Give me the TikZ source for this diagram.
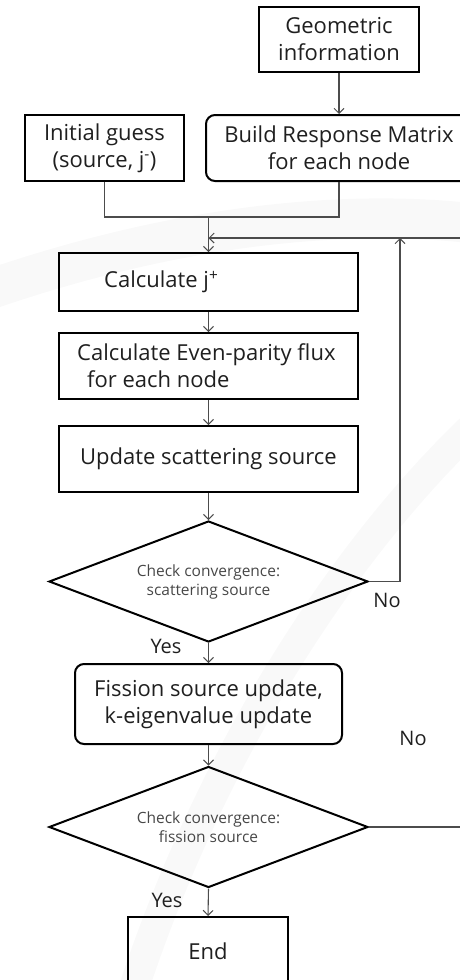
\documentclass[tikz,border=0pt]{standalone}
\usepackage{fontspec}
\setmainfont{Open Sans}
\usetikzlibrary{shapes.geometric,arrows.meta}

\begin{document}
\begin{tikzpicture}[x=1pt,y=-1pt,
  every node/.style={font=\fontsize{22}{27}\selectfont, text=black!88},
  box/.style={draw=black, line width=2pt, rectangle, inner sep=0pt, align=center},
  rbox/.style={box, rounded corners=9pt},
  dec/.style={draw=black, line width=2pt, diamond, inner sep=0pt, aspect=2.64,
    minimum width=319pt, minimum height=121pt, align=center,
    font=\fontsize{15.5}{19}\selectfont, text=black!72},
  txt/.style={inner sep=0pt, align=left},
  lab/.style={inner sep=0pt, font=\fontsize{20}{24}\selectfont},
  link/.style={draw=black!70, line width=1.1pt},
  arr/.style={link, -{Straight Barb[length=5pt,width=10pt,line width=1pt]}}]

% page frame
\useasboundingbox (0,0) rectangle (460,980);

% faint background swoosh
\begin{scope}
  \clip (0,0) rectangle (460,980);
  \draw[line width=40pt, black!2.5] (-40,300) .. controls (150,230) and (350,200) .. (520,230);
  \draw[line width=30pt, black!2.5] (130,1000) .. controls (200,780) and (330,560) .. (480,420);
\end{scope}

% process blocks
\node[box, minimum width=160pt, minimum height=65pt] (geo) at (339,39.5) {Geometric\\information};
\node[box, minimum width=159pt, minimum height=66pt] (init) at (104.5,148) {Initial guess\\(source, j\textsuperscript{-})};
\node[rbox, minimum width=266pt, minimum height=66pt] (build) at (339,148) {Build Response Matrix\\for each node};

\node[box, minimum width=299pt, minimum height=58pt] (calc) at (208.5,282) {};
\node[txt, anchor=west] (calctxt) at ([xshift=46pt]calc.west) {Calculate j\textsuperscript{+}};

\node[box, minimum width=299pt, minimum height=66pt] (even) at (208.5,366) {};
\node[txt, anchor=west] (eventxt) at ([xshift=19pt]even.west) {Calculate Even-parity flux\\\hspace*{10pt}for each node};

\node[box, minimum width=299pt, minimum height=66pt] (upd) at (208.5,459) {Update scattering source};

\node[dec] (d1) at (208.5,581.5) {Check convergence:\\scattering source};

\node[rbox, minimum width=267pt, minimum height=80pt] (fis) at (208.5,704) {Fission source update,\\k-eigenvalue update};

\node[dec] (d2) at (208.5,827) {Check convergence:\\fission source};

\node[box, minimum width=160pt, minimum height=68pt] (fin) at (208,951) {End};

% branch labels
\node[lab] (no1) at (387,600) {No};
\node[lab] (yes1) at (166,646) {Yes};
\node[lab] (no2) at (413,738) {No};
\node[lab] (yes2) at (167,900) {Yes};

% junction points
\coordinate (j1) at (208.5,217);
\coordinate (fb) at (208.5,238);
\coordinate (up1) at (400,238);
\coordinate (edgeA) at (461,238);
\coordinate (edgeB) at (461,827);

% connectors
\draw[arr] (geo.south) -- (build.north);
\draw[link] (init.south) |- (j1) -| (build.south);
\draw[arr] (j1) -- (calc.north);
\draw[arr] (edgeA) -- (fb);
\draw[arr] (d1.east) -| (up1);
\draw[arr] (calc.south) -- (even.north);
\draw[arr] (even.south) -- (upd.north);
\draw[arr] (upd.south) -- (d1.north);
\draw[arr] (d1.south) -- (fis.north);
\draw[arr] (fis.south) -- (d2.north);
\draw[link] (d2.east) -- (edgeB);
\draw[arr] (d2.south) -- (fin.north);
\end{tikzpicture}
\end{document}
